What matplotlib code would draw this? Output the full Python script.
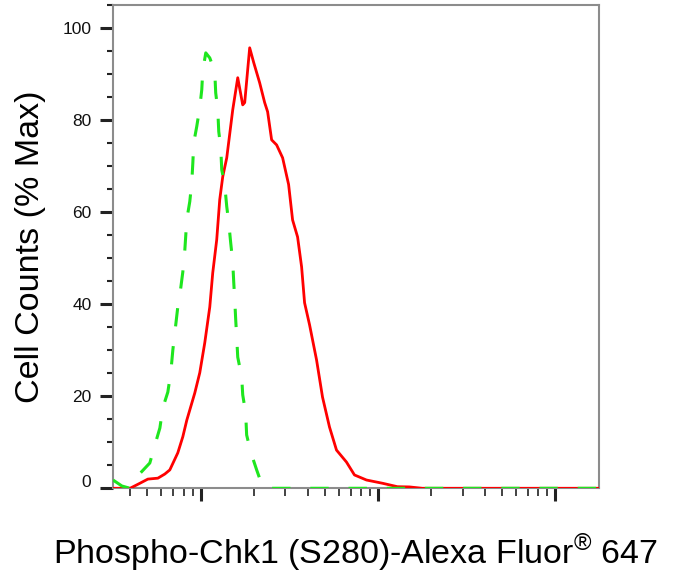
import matplotlib
matplotlib.use("Agg")
import matplotlib.pyplot as plt
import matplotlib.ticker as mticker
import matplotlib.transforms as mtrans

plt.rcParams['font.family'] = ['Liberation Sans', 'DejaVu Sans']
plt.rcParams['mathtext.fontset'] = 'custom'
plt.rcParams['mathtext.rm'] = 'Liberation Sans'

# stained sample (red, solid)
red_x = [32, 39.9, 45.4, 50.3, 57.3, 62.7, 66.9, 74.2, 79.2, 83.4, 92.5, 98.7,
         105.3, 112.4, 116.8, 123.0, 127.9, 133.0, 140.1, 151.4, 161.6, 172.4,
         176.9, 188.7, 198.8, 214.8, 229.2, 238.2, 250.9, 267.7, 289.4, 312.8,
         329.4, 351.5, 370.3, 384.9, 410.7, 449.6, 485.9, 532.0, 582.6, 663.1,
         735.6, 859.5, 1057, 1284, 1500, 1776, 17600]
red_y = [0, 0, 1.1, 2.0, 2.2, 3.1, 4.0, 7.7, 11.2, 14.8, 20.7, 25.1,
         31.6, 39.4, 46.8, 54.0, 62.7, 67.7, 71.8, 82.2, 89.2, 83.3,
         83.8, 95.7, 92.5, 88.1, 83.8, 81.8, 75.7, 74.6, 71.8, 66.0,
         58.3, 54.6, 48.1, 40.3, 35.5, 27.9, 19.8, 13.3, 8.3, 5.7,
         2.9, 1.8, 1.1, 0.35, 0.3, 0, 0]

# isotype control (green, dashed)
green_x = [32, 35.9, 39.9, 43.6, 51.6, 55.1, 58.8, 61.1, 65.2, 67.8, 69.6, 71.4,
           74.2, 76.2, 79.2, 81.3, 83.4, 86.7, 89.0, 90.2, 91.3, 94.9, 98.7,
           101.3, 102.6, 106.7, 112.4, 119.9, 121.4, 124.7, 126.3, 129.6, 131.3,
           136.5, 140.1, 143.8, 147.5, 151.4, 153.4, 155.4, 157.4, 159.5, 161.6,
           170.1, 172.4, 179.1, 181.4, 191.2, 206.6, 223.4, 244.5, 17600]
green_y = [1.8, 0.5, 0, 2.5, 5.5, 9.4, 13.1, 17.5, 20.9, 25.3, 30.1, 33.8,
           39.4, 42.0, 47.0, 51.8, 58.4, 62.3, 66.6, 70.7, 75.1, 78.6, 82.7,
           86.6, 90.7, 94.6, 93.5, 90.5, 85.9, 82.2, 77.5, 74.0, 69.2,
           65.9, 61.2, 57.7, 53.3, 49.2, 44.8, 41.0, 36.6, 32.7, 28.5,
           24.2, 20.3, 16.4, 11.6, 7.9, 4.0, 0.3, 0, 0]

y_ticks = [0, 20, 40, 60, 80, 100]

fig = plt.figure(figsize=(6.9, 5.8), dpi=100)
ax = fig.add_axes([0.1638, 0.1581, 0.7043, 0.8333])

ax.plot(red_x, red_y, color='#ff0000', lw=2.0, zorder=3)
ax.plot(green_x, green_y, color='#1ee61e', lw=2.2, ls=(0, (6, 6.5)), zorder=4)

ax.set_xscale('log')
ax.set_xlim(32, 17600)
ax.set_ylim(0, 105)
ax.xaxis.set_major_locator(mticker.FixedLocator([100, 1000, 10000]))
ax.xaxis.set_minor_locator(mticker.LogLocator(base=10, subs=range(2, 10), numticks=20))
ax.xaxis.set_major_formatter(mticker.NullFormatter())
ax.xaxis.set_minor_formatter(mticker.NullFormatter())
ax.set_yticks(y_ticks)
ax.yaxis.set_minor_locator(mticker.MultipleLocator(5))

for s in ax.spines.values():
    s.set_color('#8c8c8c')
    s.set_linewidth(1.5)

ax.tick_params(axis='both', which='major', direction='out', length=9.5, width=2.2,
               color='#222222', labelsize=12.5, pad=6, labelcolor='#111111')
ax.tick_params(axis='x', which='minor', direction='out', length=6, width=1.2,
               color='#222222')
ax.tick_params(axis='y', which='minor', direction='out', length=4.5, width=1.5,
               color='#222222')

# the "0" label sits a little higher than its tick
lbl0 = ax.yaxis.get_major_ticks()[0].label1
lbl0.set_transform(lbl0.get_transform() +
                   mtrans.ScaledTranslation(0, 7 / 100, fig.dpi_scale_trans))

ax.set_ylabel('Cell Counts (% Max)', fontsize=24.5)
ax.yaxis.set_label_coords(-0.138, 0.5)
ax.set_xlabel('Phospho-Chk1 (S280)-Alexa Fluor$^{®}$ 647', fontsize=24.5)
ax.xaxis.set_label_coords(0.5, -0.09)

fig.savefig('out.png', dpi=100)
plt.close(fig)
